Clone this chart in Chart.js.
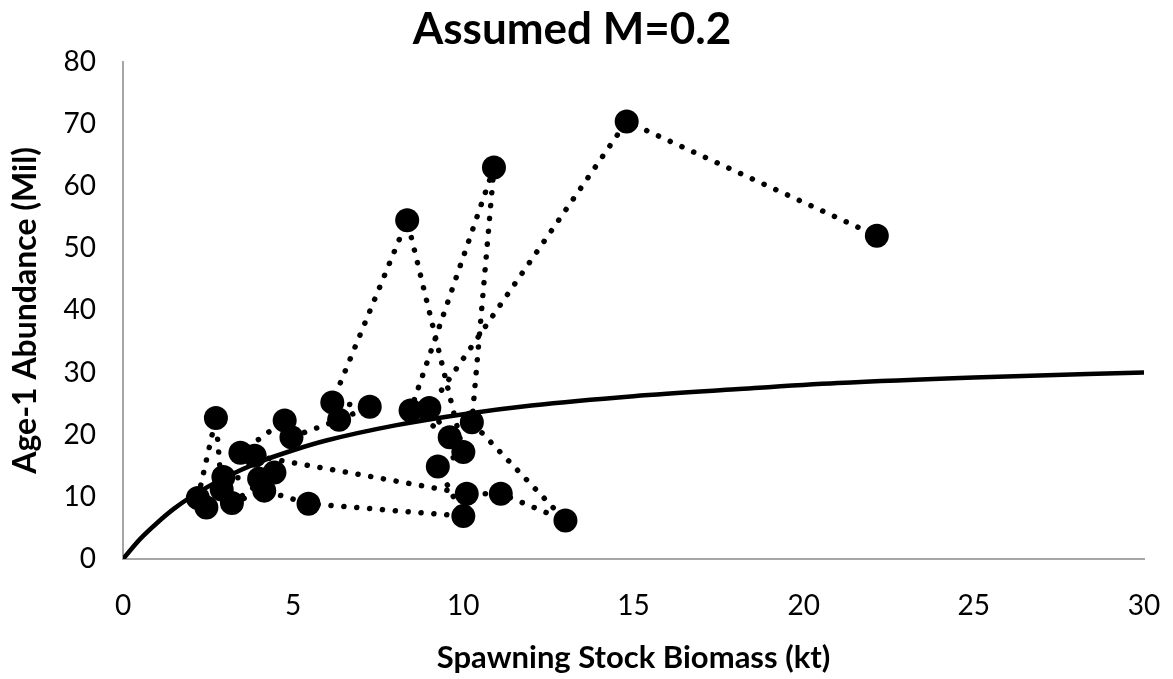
<!DOCTYPE html>
<html>
<head>
<meta charset="utf-8">
<script src="https://cdn.jsdelivr.net/npm/chart.js@4/dist/chart.umd.min.js"></script>
<style>
  html, body { margin: 0; padding: 0; background: #fff; }
  #wrap { width: 1173px; height: 679px; }
</style>
</head>
<body>
<div id="wrap"><canvas id="srChart" width="1173" height="679"></canvas></div>
<script>
// observed spawning stock biomass (kt) and age-1 abundance (Mil), in year order
const ssb_values = [2.45, 2.2, 2.73, 2.9, 2.95, 4.0, 4.45, 3.2, 4.15, 5.45, 10.0, 9.25, 10.0, 8.35, 6.15, 7.25, 6.35, 4.95, 4.75, 3.45, 3.87, 10.1, 11.1, 13.0, 10.25, 10.9, 8.45, 9.6, 9.0, 14.8, 22.15]
const recruit_values = [8.3, 9.8, 22.7, 11.2, 13.2, 12.9, 13.9, 9.0, 11.0, 8.9, 6.9, 14.9, 17.2, 54.5, 25.2, 24.5, 22.4, 19.6, 22.3, 17.1, 16.6, 10.5, 10.5, 6.2, 22.0, 63.0, 23.9, 19.6, 24.3, 70.4, 52.0]

// stock-recruit curve
const curve_ssb = [0, 0.5, 1, 1.5, 2, 3, 4, 5, 6, 8, 10, 12, 15, 18, 21, 25, 30]
const curve_recruits = [0, 3.2, 5.8, 8.1, 10.0, 13.1, 15.6, 17.5, 19.1, 21.5, 23.3, 24.7, 26.2, 27.3, 28.3, 29.2, 30.0]

const x_ticks = [0, 5, 10, 15, 20, 25, 30]
const y_ticks = [0, 10, 20, 30, 40, 50, 60, 70, 80]

const observed_points = []
ssb_values.forEach((s, i) => {
  observed_points.push({x: s, y: recruit_values[i]})
});

const curve_points = []
curve_ssb.forEach((s, i) => {
  curve_points.push({x: s, y: curve_recruits[i]})
});

const font_name = 'Lato, "Open Sans", sans-serif'
const axis_grey = '#a6a6a6'

const ctx = document.getElementById('srChart').getContext('2d');

new Chart(ctx, {
  type: 'line',
  data: {
    datasets: [
      {
        label: 'Observed',
        data: observed_points,
        borderColor: '#000',
        borderWidth: 5.5,
        borderDash: [0.1, 12.8],
        borderCapStyle: 'round',
        tension: 0,
        pointRadius: 12,
        pointBackgroundColor: '#000',
        pointBorderColor: '#000',
        pointBorderWidth: 0,
        order: 1
      },
      {
        label: 'Fitted',
        data: curve_points,
        borderColor: '#000',
        borderWidth: 4.5,
        pointRadius: 0,
        cubicInterpolationMode: 'monotone',
        order: 2
      }
    ]
  },
  options: {
    responsive: false,
    animation: false,
    layout: {padding: {left: 0, right: 29, top: 0, bottom: 0}},
    plugins: {
      legend: {display: false},
      tooltip: {enabled: false},
      title: {
        display: true,
        text: 'Assumed M=0.2',
        color: '#000',
        font: {family: font_name, size: 44, weight: 'bold', lineHeight: 1.2},
        padding: {top: 3, bottom: 6}
      }
    },
    scales: {
      x: {
        type: 'linear',
        min: 0,
        max: 30,
        afterBuildTicks: (scale) => { scale.ticks = x_ticks.map(v => ({value: v})) },
        afterFit: (scale) => {
          scale.height = 120
          scale.paddingLeft = 0
          scale.paddingRight = 0
        },
        grid: {display: false, drawTicks: false},
        border: {display: true, color: axis_grey, width: 2},
        ticks: {color: '#000', padding: 30, font: {family: font_name, size: 28}},
        title: {
          display: true,
          text: 'Spawning Stock Biomass (kt)',
          color: '#000',
          font: {family: font_name, size: 31, weight: 'bold'},
          padding: {top: 10, bottom: 2}
        }
      },
      y: {
        type: 'linear',
        min: 0,
        max: 80,
        afterBuildTicks: (scale) => { scale.ticks = y_ticks.map(v => ({value: v})) },
        afterFit: (scale) => { scale.width = 123 },
        grid: {display: false, drawTicks: false},
        border: {display: true, color: axis_grey, width: 2},
        ticks: {color: '#000', padding: 27, font: {family: font_name, size: 28}},
        title: {
          display: true,
          text: 'Age-1 Abundance (Mil)',
          color: '#000',
          font: {family: font_name, size: 32, weight: 'bold'},
          padding: {top: 6, bottom: 4}
        }
      }
    }
  }
});
</script>
</body>
</html>
